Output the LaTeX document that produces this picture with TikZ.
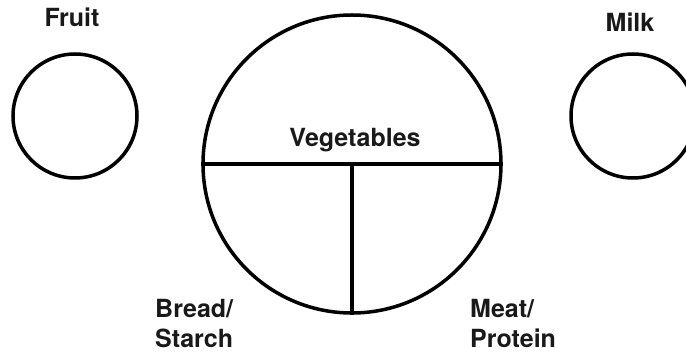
\documentclass[tikz,border=0pt]{standalone}
\usepackage{fontspec}
\setmainfont{TeX Gyre Heros}
\usepackage{tikz}

\tikzset{
    plate/.style={circle, draw, line width=3.5pt, inner sep=0pt},
    foodlabel/.style={font=\fontsize{25}{30}\selectfont\bfseries, inner sep=0pt, text=black!90}
}

\begin{document}
\begin{tikzpicture}[x=1pt, y=1pt]
    \clip (0,0) rectangle (686,356);
    \node[plate, minimum size=298pt] (bigplate) at (352,192) {};
    \node[plate, minimum size=124pt] (fruitcup) at (75,240) {};
    \node[plate, minimum size=124pt] (milkcup) at (633,240) {};
    \draw[line width=3.5pt] (bigplate.west) -- (bigplate.east);
    \draw[line width=3.5pt] (bigplate.center) -- (bigplate.south);
    \node[foodlabel, anchor=base] (fruit) at (72,329) {Fruit};
    \node[foodlabel, anchor=base] (milk) at (630,324) {Milk};
    \node[foodlabel, anchor=base] (veg) at (355,209) {Vegetables};
    \node[foodlabel, anchor=north west, align=left] (bread) at (155,57) {Bread/\\Starch};
    \node[foodlabel, anchor=north west, align=left] (meat) at (470,57) {Meat/\\Protein};
\end{tikzpicture}
\end{document}
